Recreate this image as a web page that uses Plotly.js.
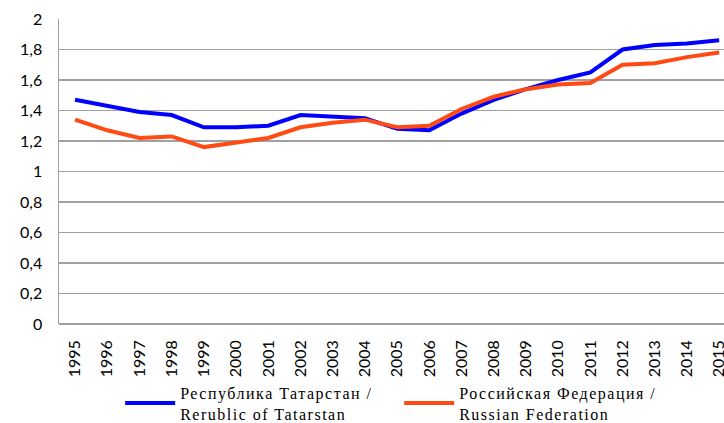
<!DOCTYPE html>
<html>
<head>
<meta charset="utf-8">
<script src="https://cdn.plot.ly/plotly-3.0.1.min.js"></script>
<style>
html, body { margin: 0; padding: 0; overflow: hidden; background: #fff; }
#chart { width: 724px; height: 423px; }
.legendtext { letter-spacing: 1.5px; }
</style>
</head>
<body>
<div id="chart"></div>
<script>
var years = ['1995','1996','1997','1998','1999','2000','2001','2002','2003','2004','2005','2006','2007','2008','2009','2010','2011','2012','2013','2014','2015'];
var tatarstan = [1.47,1.43,1.39,1.37,1.29,1.29,1.30,1.37,1.36,1.35,1.28,1.27,1.38,1.47,1.54,1.60,1.65,1.80,1.83,1.84,1.86];
var russia = [1.34,1.27,1.22,1.23,1.16,1.19,1.22,1.29,1.32,1.34,1.29,1.30,1.41,1.49,1.54,1.57,1.58,1.70,1.71,1.75,1.78];
var yTicks = [0,0.2,0.4,0.6,0.8,1,1.2,1.4,1.6,1.8,2];
var yTickText = ['0','0,2','0,4','0,6','0,8','1','1,2','1,4','1,6','1,8','2'];
var nameTat = 'Республика Татарстан /<br>Rerublic of Tatarstan';
var nameRus = 'Российская Федерация /<br>Russian Federation';

var traces = [
  {x: years, y: tatarstan, type: 'scatter', mode: 'lines', name: nameTat,
   line: {color: '#0000ff', width: 4}},
  {x: years, y: russia, type: 'scatter', mode: 'lines', name: nameRus,
   line: {color: '#ff4a14', width: 4}}
];

var layout = {
  width: 724, height: 423,
  margin: {l: 59, r: 0, t: 19, b: 99},
  paper_bgcolor: '#fff', plot_bgcolor: '#fff',
  font: {family: 'Lato, "Liberation Sans", sans-serif', size: 15, color: '#000'},
  xaxis: {
    type: 'category', range: [-0.5, 20.15],
    tickangle: -90, showgrid: false, zeroline: false,
    showline: false, ticks: '', ticklabelstandoff: 12, automargin: false,
    tickfont: {size: 16, family: 'Lato, sans-serif', color: '#000'}
  },
  yaxis: {
    range: [0, 2], tickvals: yTicks, ticktext: yTickText,
    showgrid: true, gridcolor: '#a0a0a0', gridwidth: 1.5,
    zeroline: true, zerolinecolor: '#a0a0a0', zerolinewidth: 1.5,
    showline: true, linecolor: '#a0a0a0', linewidth: 1.5,
    ticks: '', ticklabelstandoff: 12, automargin: false,
    tickfont: {size: 16, family: 'Lato, sans-serif', color: '#000'}
  },
  showlegend: true,
  legend: {
    orientation: 'h', xref: 'container', x: 0.166, xanchor: 'left',
    yref: 'container', y: 0.112, yanchor: 'top',
    font: {family: '"Liberation Serif", "Times New Roman", serif', size: 16, color: '#000'},
    itemwidth: 50, entrywidth: 214, entrywidthmode: 'pixels',
    bgcolor: 'rgba(0,0,0,0)', traceorder: 'normal'
  }
};

Plotly.newPlot('chart', traces, layout, {displayModeBar: false, staticPlot: true});
</script>
</body>
</html>
